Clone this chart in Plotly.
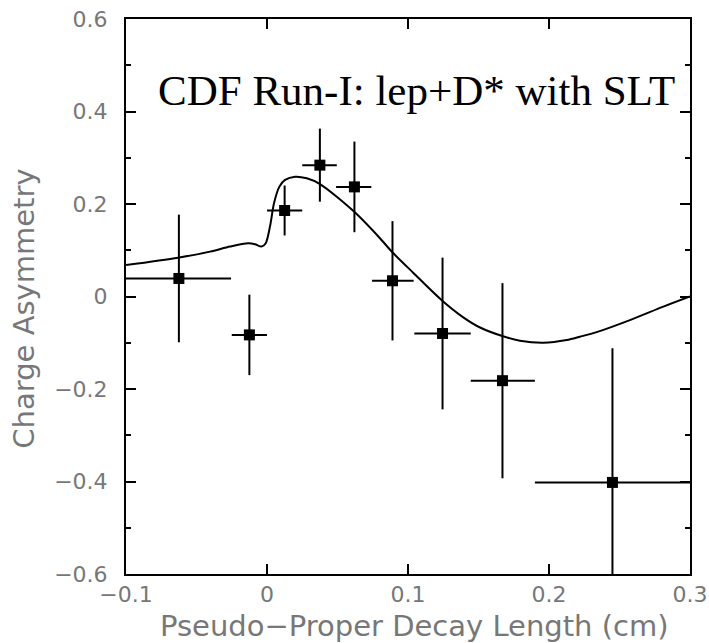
import plotly.graph_objects as go

# Data points (pseudo-proper decay length bins)
x_pts = [-0.0625, -0.0125, 0.0125, 0.0375, 0.062, 0.089, 0.1245, 0.167, 0.245]
y_pts = [0.039, -0.083, 0.186, 0.284, 0.237, 0.034, -0.080, -0.182, -0.402]
x_lo = [-0.1, -0.025, 0.0, 0.025, 0.049, 0.0745, 0.1045, 0.1445, 0.19]
x_hi = [-0.0255, 0.0, 0.025, 0.0495, 0.074, 0.104, 0.1445, 0.19, 0.3]
y_err = [0.138, 0.087, 0.054, 0.079, 0.098, 0.129, 0.164, 0.211, 0.29]

# Fit curve
x_fit = [-0.1, -0.0631, -0.0404, -0.0262, -0.0133, -0.0085, -0.0038, -0.0009,
         0.0021, 0.0050, 0.0087, 0.0128, 0.0199, 0.0282, 0.0376, 0.0619,
         0.0801, 0.0891, 0.1038, 0.1239, 0.1392, 0.1511, 0.1669, 0.1794,
         0.1960, 0.2126, 0.2220, 0.2338, 0.2574, 0.2811, 0.3]
y_fit = [0.068, 0.084, 0.097, 0.108, 0.115, 0.113, 0.108, 0.115,
         0.151, 0.202, 0.237, 0.252, 0.259, 0.2555, 0.243, 0.183,
         0.126, 0.095, 0.051, -0.008, -0.045, -0.067, -0.0855, -0.0955,
         -0.0998, -0.0941, -0.0869, -0.077, -0.051, -0.022, 0.0]

x_ticks = [-0.1, 0, 0.1, 0.2, 0.3]
x_ticklabels = ["\u22120.1", "0", "0.1", "0.2", "0.3"]
y_ticks = [-0.6, -0.4, -0.2, 0, 0.2, 0.4, 0.6]
y_ticklabels = ["\u22120.6", "\u22120.4", "\u22120.2", "0", "0.2", "0.4", "0.6"]

fig = go.Figure()
fig.add_trace(go.Scatter(
    x=x_fit, y=y_fit, mode="lines",
    line=dict(color="black", width=2, shape="spline", smoothing=0.8),
    hoverinfo="skip", showlegend=False))

fig.add_trace(go.Scatter(
    x=x_pts, y=y_pts, mode="markers",
    marker=dict(symbol="square", size=11, color="black"),
    error_x=dict(type="data", symmetric=False,
                 array=[h - c for h, c in zip(x_hi, x_pts)],
                 arrayminus=[c - l for l, c in zip(x_lo, x_pts)],
                 width=0, thickness=2, color="black"),
    error_y=dict(type="data", array=y_err, width=0, thickness=2, color="black"),
    showlegend=False))

tick_font = dict(family="DejaVu Sans", size=22, color="#777777")

fig.update_xaxes(
    range=[-0.1, 0.3], tickvals=x_ticks, ticktext=x_ticklabels,
    ticks="inside", ticklen=10, tickwidth=2, tickcolor="black",
    showline=True, linecolor="black", linewidth=2, mirror="ticks",
    showgrid=False, zeroline=False, tickfont=tick_font,
    ticklabelstandoff=0)
fig.update_yaxes(
    range=[-0.6, 0.6], tickvals=y_ticks, ticktext=y_ticklabels,
    ticks="inside", ticklen=10, tickwidth=2, tickcolor="black",
    minor=dict(dtick=0.1, tick0=0, ticks="inside", ticklen=5, tickwidth=2, tickcolor="black"),
    showline=True, linecolor="black", linewidth=2, mirror="ticks",
    showgrid=False, zeroline=False, tickfont=tick_font,
    ticklabelstandoff=12)

title_font = dict(family="DejaVu Sans", size=29, color="#777777")
fig.add_annotation(text="Pseudo\u2212Proper Decay Length (cm)", xref="paper", yref="paper",
                   x=0.512, y=-0.094, xanchor="center", yanchor="middle",
                   showarrow=False, font=title_font)
fig.add_annotation(text="Charge Asymmetry", xref="paper", yref="paper",
                   x=-0.180, y=0.479, xanchor="center", yanchor="middle",
                   textangle=-90, showarrow=False, font=title_font)
fig.add_annotation(text="CDF Run-I: lep+D* with SLT", xref="paper", yref="paper",
                   x=0.977, y=0.872, xanchor="right", yanchor="middle",
                   showarrow=False,
                   font=dict(family="Liberation Serif", size=43, color="black"))

fig.update_layout(
    width=709, height=643,
    margin=dict(l=126, r=19, t=19, b=69, autoexpand=False),
    paper_bgcolor="white", plot_bgcolor="white")

fig.write_html("out.html")
